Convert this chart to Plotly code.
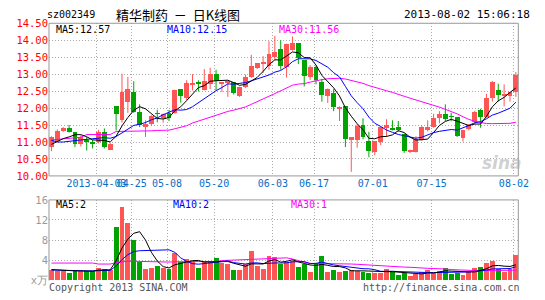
import plotly.graph_objects as go

# ---------------- data ----------------
dates = [
    "2013-04-03", "2013-04-08", "2013-04-09", "2013-04-10", "2013-04-11", "2013-04-12",
    "2013-04-15", "2013-04-16", "2013-04-17", "2013-04-18", "2013-04-19", "2013-04-22",
    "2013-04-23", "2013-04-24", "2013-04-25", "2013-04-26",
    "2013-05-02", "2013-05-03", "2013-05-06", "2013-05-07", "2013-05-08", "2013-05-09",
    "2013-05-10", "2013-05-13", "2013-05-14", "2013-05-15", "2013-05-16", "2013-05-17",
    "2013-05-20", "2013-05-21", "2013-05-22", "2013-05-23", "2013-05-24", "2013-05-27",
    "2013-05-28", "2013-05-29", "2013-05-30", "2013-05-31",
    "2013-06-03", "2013-06-04", "2013-06-05", "2013-06-06", "2013-06-07", "2013-06-13",
    "2013-06-14", "2013-06-17", "2013-06-18", "2013-06-19", "2013-06-20", "2013-06-21",
    "2013-06-24", "2013-06-25", "2013-06-26", "2013-06-27", "2013-06-28",
    "2013-07-01", "2013-07-02", "2013-07-03", "2013-07-04", "2013-07-05", "2013-07-08",
    "2013-07-09", "2013-07-10", "2013-07-11", "2013-07-12", "2013-07-15", "2013-07-16",
    "2013-07-17", "2013-07-18", "2013-07-19", "2013-07-22", "2013-07-23", "2013-07-24",
    "2013-07-25", "2013-07-26", "2013-07-29", "2013-07-30", "2013-07-31",
    "2013-08-01", "2013-08-02",
]

opens = [
    10.85, 11.03, 11.32, 11.41, 11.28, 10.94, 11.06, 10.96, 11.00, 11.29,
    10.77, 12.05, 11.64, 12.16, 12.47, 11.87, 11.44, 11.51, 11.84, 11.70,
    11.86, 11.86, 12.54, 12.28, 12.68, 12.73, 12.52, 12.69, 13.00, 12.72,
    12.76, 12.75, 12.36, 12.61, 12.91, 13.17, 13.30, 13.22, 13.50, 13.72,
    13.20, 13.71, 13.91, 13.41, 12.92, 13.20, 12.75, 12.35, 12.44, 11.97,
    12.05, 11.04, 11.06, 11.48, 11.03, 10.71, 10.99, 11.39, 11.38, 11.44,
    11.22, 10.69, 10.70, 11.06, 11.34, 11.44, 11.69, 11.81, 11.75, 11.74,
    11.11, 11.37, 11.58, 11.93, 11.74, 12.30, 12.52, 12.37, 12.35, 12.47,
]
highs = [
    11.17, 11.37, 11.44, 11.50, 11.28, 11.20, 11.15, 11.06, 11.36, 11.40,
    10.97, 12.05, 13.01, 12.92, 12.79, 12.11, 11.64, 11.79, 11.95, 11.84,
    11.95, 12.54, 12.54, 12.82, 13.00, 12.82, 13.15, 13.19, 13.13, 12.77,
    12.82, 12.77, 12.63, 12.99, 13.57, 13.33, 13.53, 13.97, 14.13, 14.00,
    13.90, 14.11, 13.91, 13.41, 13.27, 13.25, 12.86, 12.58, 12.56, 12.05,
    12.05, 11.13, 11.53, 11.70, 11.30, 11.03, 11.46, 11.67, 11.64, 11.62,
    11.25, 10.78, 11.17, 11.48, 11.64, 11.83, 11.91, 12.11, 11.86, 11.74,
    11.36, 11.53, 11.92, 11.98, 12.42, 12.80, 12.72, 12.70, 12.47, 13.06,
]
lows = [
    10.73, 11.00, 11.30, 11.28, 10.85, 10.87, 10.75, 10.81, 10.96, 10.81,
    10.76, 11.34, 11.57, 11.86, 11.86, 11.44, 11.15, 11.48, 11.58, 11.57,
    11.62, 11.83, 12.16, 12.23, 12.52, 12.49, 12.52, 12.56, 12.52, 12.47,
    12.33, 12.40, 12.33, 12.59, 12.89, 13.15, 13.03, 13.13, 13.41, 13.13,
    12.90, 13.69, 13.30, 12.64, 12.83, 12.70, 12.19, 12.15, 11.91, 11.62,
    10.85, 10.12, 10.83, 11.08, 10.55, 10.61, 10.91, 11.15, 11.34, 11.30,
    10.68, 10.67, 10.69, 11.04, 11.31, 11.42, 11.55, 11.62, 11.61, 11.15,
    11.01, 11.34, 11.53, 11.42, 11.72, 12.19, 12.19, 12.05, 12.19, 12.33,
]
closes = [
    11.13, 11.31, 11.41, 11.30, 10.92, 11.15, 10.99, 10.95, 11.29, 10.85,
    10.93, 11.83, 12.47, 12.54, 11.89, 11.48, 11.51, 11.77, 11.82, 11.81,
    11.70, 12.52, 12.35, 12.72, 12.72, 12.71, 12.80, 13.00, 12.80, 12.74,
    12.77, 12.44, 12.61, 12.92, 13.24, 13.31, 13.32, 13.60, 13.64, 13.24,
    13.88, 13.91, 13.48, 12.94, 13.20, 12.82, 12.38, 12.56, 12.03, 11.99,
    11.09, 11.13, 11.46, 11.14, 10.73, 11.01, 11.44, 11.50, 11.37, 11.35,
    10.73, 10.76, 11.08, 11.42, 11.44, 11.69, 11.81, 11.67, 11.73, 11.17,
    11.36, 11.50, 11.88, 11.74, 12.30, 12.77, 12.38, 12.39, 12.47, 12.96,
]
volumes = [  # x 10,000
    2.0, 1.9, 1.9, 1.4, 2.0, 1.9, 1.75, 1.75, 2.5, 2.3,
    2.0, 10.6, 14.6, 11.4, 8.1, 3.6, 2.2, 2.4, 2.8, 2.4,
    2.3, 5.4, 3.6, 4.3, 3.8, 2.5, 3.8, 3.7, 4.5, 3.4,
    3.2, 2.0, 2.0, 3.2, 5.8, 2.8, 2.3, 4.9, 4.6, 3.3,
    3.6, 3.9, 2.65, 3.2, 1.7, 3.2, 4.9, 1.7, 2.0, 1.7,
    1.9, 2.0, 1.9, 1.7, 1.5, 1.5, 1.5, 2.2, 1.7, 1.05,
    1.4, 0.85, 1.25, 1.6, 2.0, 1.4, 1.8, 2.5, 1.25, 1.5,
    1.05, 1.9, 2.4, 2.6, 3.4, 3.9, 2.3, 1.7, 2.3, 5.1,
]

# moving-average values before enough in-window history exists
ma5_head = [10.93, 11.02, 11.10, 11.15]
ma10_head = [11.05, 11.00, 11.00, 11.01, 11.04, 11.06, 11.08, 11.10, 11.11]
ma30_head = [11.06, 11.08, 11.10, 11.11, 11.12, 11.14, 11.22, 11.22, 11.22, 11.22,
             11.22, 11.31, 11.31, 11.32, 11.32, 11.33, 11.33, 11.33, 11.34, 11.34,
             11.35, 11.39, 11.44, 11.48, 11.56, 11.62, 11.68, 11.74, 11.78]
vol_ma5_head = [2.1, 2.0, 1.95, 1.9]
vol_ma10_head = [2.0, 1.95, 1.9, 1.85, 1.85, 1.85, 1.85, 1.85, 1.9]
vol_ma30_head = [3.4, 3.4, 3.4, 3.4, 3.4, 3.4, 3.4, 3.4, 3.2, 3.2,
                 3.2, 3.5, 3.7, 3.75, 3.75, 3.7, 3.65, 3.6, 3.6, 3.6,
                 3.6, 3.65, 3.7, 3.7, 3.7, 3.7, 3.7, 3.7, 3.7]

price_ticks = [10.0, 10.5, 11.0, 11.5, 12.0, 12.5, 13.0, 13.5, 14.0, 14.5]
vol_ticks = [0, 4, 8, 12, 16]
vol_tick_text = ["x万", "4", "8", "12", "16"]
x_tick_dates = ["2013-04-17", "2013-04-25", "2013-05-08", "2013-05-20", "2013-06-03",
                "2013-06-17", "2013-07-01", "2013-07-15", "2013-08-02"]
x_tick_text = ["2013-04-03", "04-25", "05-08", "05-20", "06-03",
               "06-17", "07-01", "07-15", "08-02"]

code = "sz002349"
title = "精华制药\u00a0\u00a0－\u00a0\u00a0日K线图"
stamp = "2013-08-02 15:06:18"
price_ma_labels = ["MA5:12.57", "MA10:12.15", "MA30:11.56"]
vol_ma_labels = ["MA5:2", "MA10:2", "MA30:1"]

# ---------------- helpers ----------------
RED = "#ff5555"
GREEN = "#00a400"
MA_COLORS = ["#000000", "#0000ff", "#ff00ff"]
MONO = "DejaVu Sans Mono"
W, H = 545, 300


def moving_avg(vals, n, head):
    out = list(head)
    for i in range(n - 1, len(vals)):
        out.append(sum(vals[i - n + 1:i + 1]) / n)
    return out


def px(x):
    return x / W


def py(y):
    return 1 - y / H


n = len(dates)
idx = list(range(n))
up = [c >= o for o, c in zip(opens, closes)]
colors = [RED if u else GREEN for u in up]

fig = go.Figure()

# wicks
for flag, col in [(True, RED), (False, GREEN)]:
    wx, wy = [], []
    for i in idx:
        if up[i] == flag:
            wx += [i, i, None]
            wy += [lows[i], highs[i], None]
    fig.add_trace(go.Scatter(x=wx, y=wy, mode="lines", line=dict(color=col, width=1),
                             xaxis="x", yaxis="y", hoverinfo="skip"))

# bodies
body_base = [min(o, c) for o, c in zip(opens, closes)]
body_h = [max(abs(c - o), 0.025) for o, c in zip(opens, closes)]
fig.add_trace(go.Bar(x=idx, y=body_h, base=body_base, width=5 / 6,
                     marker=dict(color=colors, line=dict(width=0)),
                     xaxis="x", yaxis="y"))

# price MAs
for vals, col in [(moving_avg(closes, 30, ma30_head), MA_COLORS[2]),
                  (moving_avg(closes, 10, ma10_head), MA_COLORS[1]),
                  (moving_avg(closes, 5, ma5_head), MA_COLORS[0])]:
    fig.add_trace(go.Scatter(x=idx, y=vals, mode="lines", line=dict(color=col, width=1),
                             xaxis="x", yaxis="y"))

# volume
fig.add_trace(go.Bar(x=idx, y=volumes, width=5 / 6,
                     marker=dict(color=colors, line=dict(width=0)),
                     xaxis="x2", yaxis="y2"))
for vals, col in [(moving_avg(volumes, 30, vol_ma30_head), MA_COLORS[2]),
                  (moving_avg(volumes, 10, vol_ma10_head), MA_COLORS[1]),
                  (moving_avg(volumes, 5, vol_ma5_head), MA_COLORS[0])]:
    fig.add_trace(go.Scatter(x=idx, y=vals, mode="lines", line=dict(color=col, width=1),
                             xaxis="x2", yaxis="y2"))

# ---------------- layout ----------------
left, right = 50, 529
xr0 = -2.5 / 6
xrange = [xr0, xr0 + (right - left) / 6]
tickpos = [dates.index(d) - 1 / 3 for d in x_tick_dates]
grid_kw = dict(showgrid=True, gridcolor="#aaaaaa", griddash="1px,2px", gridwidth=1,
               zeroline=False, showline=False, ticks="")

fig.update_layout(
    width=W, height=H, autosize=False,
    margin=dict(l=0, r=0, t=0, b=0),
    paper_bgcolor="white", plot_bgcolor="white",
    showlegend=False, bargap=0,
    xaxis=dict(domain=[px(left), px(right)], range=xrange, anchor="y",
               tickvals=tickpos, ticktext=x_tick_text, tickangle=0,
               tickfont=dict(family=MONO, size=10, color="#0a6ec8"), **grid_kw),
    yaxis=dict(domain=[py(177), py(18)], range=[10, 14.5], anchor="x",
               tickvals=price_ticks, ticktext=["%.2f" % v for v in price_ticks],
               tickfont=dict(family=MONO, size=10.5, color="#ff0000"), **grid_kw),
    xaxis2=dict(domain=[px(left), px(right)], range=xrange, anchor="y2",
                tickvals=tickpos, showticklabels=False, **grid_kw),
    yaxis2=dict(domain=[py(285.5), py(202)], range=[0, 16], anchor="x2",
                tickvals=vol_ticks, ticktext=vol_tick_text,
                tickfont=dict(family=MONO, size=10.5, color="#999999"), **grid_kw),
)

border = "#999999"
shapes = [
    dict(type="rect", xref="paper", yref="paper", x0=px(left), x1=px(right),
         y0=py(177), y1=py(18), line=dict(color=border, width=1)),
    dict(type="line", xref="paper", yref="paper", x0=px(left), x1=px(right),
         y0=py(202), y1=py(202), line=dict(color=border, width=1)),
    dict(type="line", xref="paper", yref="paper", x0=px(left), x1=px(left),
         y0=py(202), y1=py(286), line=dict(color=border, width=1)),
    dict(type="line", xref="paper", yref="paper", x0=px(right), x1=px(right),
         y0=py(202), y1=py(286), line=dict(color=border, width=1)),
]
fig.update_layout(shapes=shapes)


def text(x, y, s, color="#000000", size=10, family=MONO, xanchor="left", **kw):
    fig.add_annotation(x=px(x), y=py(y), xref="paper", yref="paper", text=s,
                       showarrow=False, xanchor=xanchor, yanchor="middle",
                       font=dict(family=family, size=size, color=color), **kw)


text(46, 9, code)
text(116, 9, title, size=13, family="Noto Sans CJK SC")
text(543, 9, stamp, size=11, xanchor="right")
for lbl, x, col in zip(price_ma_labels, [55, 168, 283], MA_COLORS):
    text(x, 24, lbl, color=col)
for lbl, x, col in zip(vol_ma_labels, [55, 175, 295], MA_COLORS):
    text(x, 207, lbl, color=col)
text(48, 293, "Copyright 2013 SINA.COM", color="#555555")
text(533, 293, "http://finance.sina.com.cn", color="#555555", xanchor="right")
text(512, 164, "<b><i>sina</i></b>", color="rgba(170,170,170,0.55)", size=17,
     family="DejaVu Sans", xanchor="center")

fig.write_html("out.html")
